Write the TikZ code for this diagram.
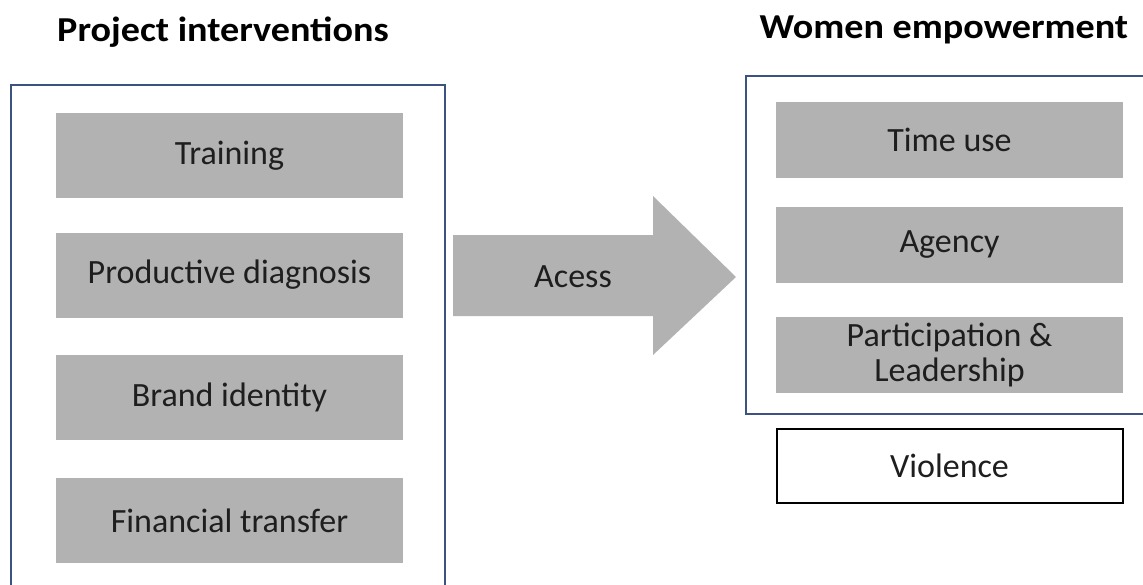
\documentclass[tikz,border=0pt]{standalone}
\usepackage{fontspec}
\setmainfont{Carlito}
\usetikzlibrary{positioning}

\definecolor{framecol}{RGB}{60,82,128}
\definecolor{boxgray}{RGB}{178,178,178}
\definecolor{txtcol}{RGB}{30,30,30}

\begin{document}
\begin{tikzpicture}[
    x=1pt, y=-1pt,
    every node/.style={font=\fontsize{34}{38}\selectfont, text=txtcol},
    heading/.style={font=\fontsize{35}{40}\selectfont\bfseries, text=black},
    item/.style={rectangle, fill=boxgray, align=center, inner sep=0pt},
    leftitem/.style={item, minimum width=347, minimum height=85},
    rightitem/.style={item, minimum width=347, minimum height=76},
    frame/.style={draw=framecol, line width=2}
]
\clip (0,0) rectangle (1143,584);

% Headings
\node[heading] (projhead) at (223,32) {\scalebox{1.09}[1]{Project interventions}};
\node[heading] (womhead) at (944,30) {\scalebox{1.09}[1]{Women empowerment}};

% Frames
\draw[frame] (11,85) rectangle (445,600);
\draw[frame] (746,76) rectangle (1160,414);

% Project interventions
\node[leftitem] (train) at (229.5,155.5) {Training};
\node[leftitem] (diag) at (229.5,275) {Productive diagnosis};
\node[leftitem] (brand) at (229.5,397) {Brand identity};
\node[leftitem] (fin) at (229.5,520.5) {Financial transfer};

% Access arrow
\fill[boxgray] (453,235) -- (653,235) -- (653,196) -- (736,277)
    -- (653,355) -- (653,316) -- (453,316) -- cycle;
\node (acc) at (573,277) {Acess};

% Women empowerment
\node[rightitem] (time) at (949.5,140) {Time use};
\node[rightitem] (agency) at (949.5,245) {Agency};
\node[rightitem, font=\fontsize{34}{35}\selectfont] (lead) at (949.5,355)
    {Participation \&\\Leadership};
\node[draw=black, line width=2, minimum width=346, minimum height=74,
    inner sep=0pt] (viol) at (949.5,466) {Violence};

\end{tikzpicture}
\end{document}
